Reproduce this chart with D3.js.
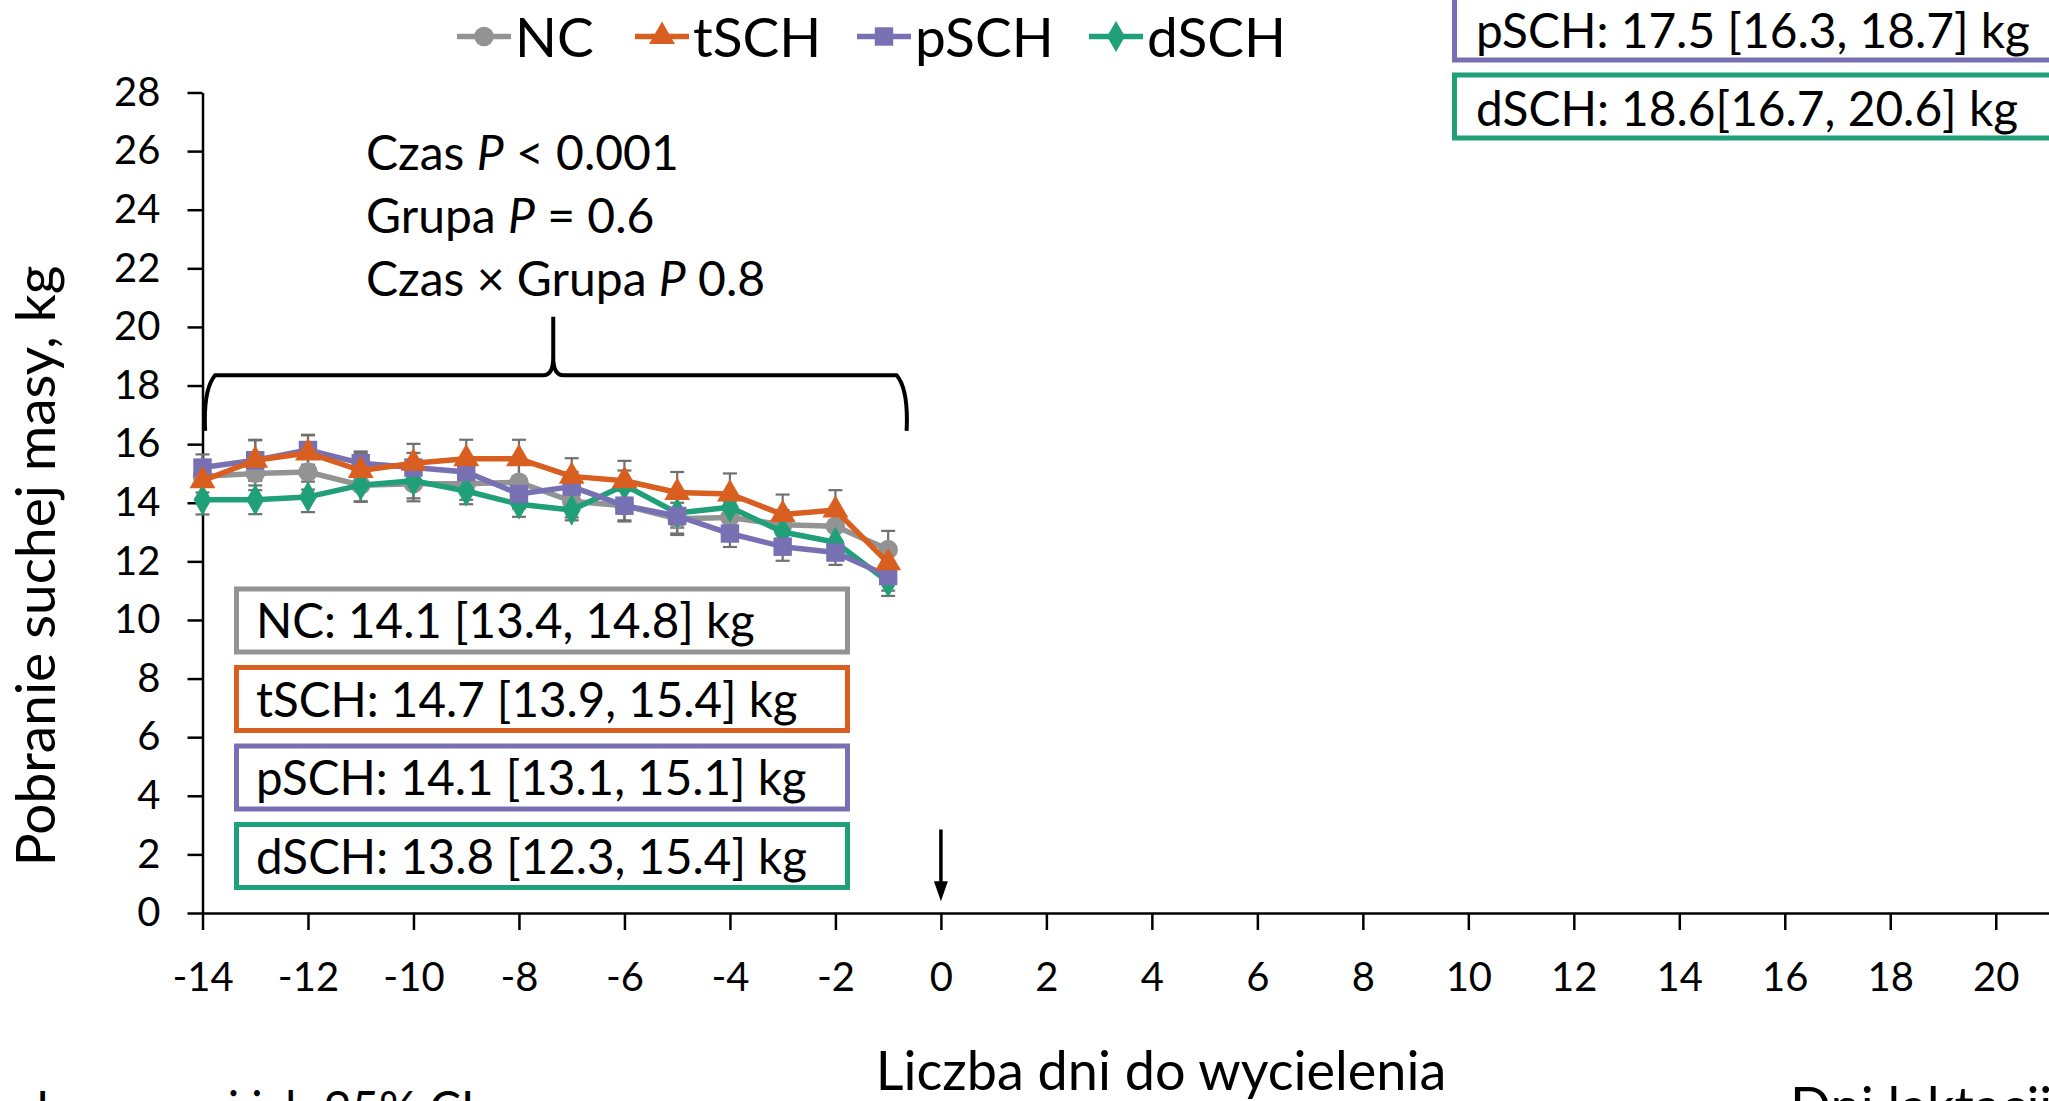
<!DOCTYPE html>
<html>

<head>
    <meta charset=utf-8 />
    <script src="https://cdn.jsdelivr.net/npm/d3@7"></script>
    <title>Pobranie suchej masy</title>
    <style>
        html,
        body {
            margin: 0;
            padding: 0;
            background: #fff;
            overflow: hidden;
        }

        svg text {
            font-family: Lato, "Open Sans", sans-serif;
            fill: #000;
        }
    </style>
</head>

<body>
    <div id="svg-canvas"></div>
    <script>
        // data (means and error bars per day before calving)
        var days = [-14, -13, -12, -11, -10, -9, -8, -7, -6, -5, -4, -3, -2, -1];
        var ncMean = [14.9, 15.0, 15.05, 14.6, 14.65, 14.65, 14.7, 14.05, 13.9, 13.45, 13.5, 13.25, 13.2, 12.4];
        var tschMean = [14.75, 15.45, 15.7, 15.1, 15.35, 15.5, 15.5, 14.9, 14.75, 14.35, 14.3, 13.6, 13.75, 11.95];
        var pschMean = [15.2, 15.45, 15.8, 15.35, 15.2, 15.05, 14.3, 14.55, 13.9, 13.55, 12.95, 12.5, 12.3, 11.5];
        var dschMean = [14.1, 14.1, 14.2, 14.6, 14.75, 14.4, 13.95, 13.75, 14.6, 13.65, 13.85, 13.0, 12.65, 11.3];
        var ncErr = [0.55, 0.57, 0.6, 0.55, 0.6, 0.55, 0.6, 0.55, 0.5, 0.55, 0.55, 0.5, 0.55, 0.64];
        var tschErr = [0.6, 0.68, 0.62, 0.6, 0.66, 0.65, 0.65, 0.62, 0.68, 0.7, 0.7, 0.68, 0.68, 0.6];
        var pschErr = [0.45, 0.7, 0.5, 0.4, 0.5, 0.5, 0.5, 0.5, 0.54, 0.6, 0.46, 0.48, 0.42, 0.5];
        var dschErr = [0.5, 0.49, 0.52, 0.57, 0.6, 0.45, 0.43, 0.35, 0.5, 0.5, 0.5, 0.5, 0.5, 0.48];

        var seriesNames = ['NC', 'tSCH', 'pSCH', 'dSCH'];
        var xTicks = [-14, -12, -10, -8, -6, -4, -2, 0, 2, 4, 6, 8, 10, 12, 14, 16, 18, 20];
        var yTicks = [0, 2, 4, 6, 8, 10, 12, 14, 16, 18, 20, 22, 24, 26, 28];

        var leftBoxLabels = ['NC: 14.1 [13.4, 14.8] kg', 'tSCH: 14.7 [13.9, 15.4] kg',
            'pSCH: 14.1 [13.1, 15.1] kg', 'dSCH: 13.8 [12.3, 15.4] kg'];
        var rightBoxNames = ['pSCH', 'dSCH'];
        var rightBoxLabels = ['pSCH: 17.5 [16.3, 18.7] kg', 'dSCH: 18.6[16.7, 20.6] kg'];
        var statLines = [['Czas ', 'P', ' < 0.001'], ['Grupa ', 'P', ' = 0.6'], ['Czas × Grupa ', 'P', ' 0.8']];
    </script>
    <script>
        var W = 2049, H = 1101;
        var colors = { NC: '#939393', tSCH: '#d95f20', pSCH: '#7771b4', dSCH: '#1fa078' };
        var shapes = { NC: d3.symbolCircle, tSCH: d3.symbolTriangle, pSCH: d3.symbolSquare, dSCH: d3.symbolDiamond };
        var sizes = { NC: 300, tSCH: 290, pSCH: 340, dSCH: 280 };

        var svg = d3.select('#svg-canvas').append('svg')
            .attr('width', W)
            .attr('height', H)

        var x = d3.scaleLinear().domain([-14, 21]).range([202.5, 2048.5]);
        var y = d3.scaleLinear().domain([0, 28]).range([913, 92.5]);

        var series = [
            { name: 'NC', mean: ncMean, err: ncErr },
            { name: 'dSCH', mean: dschMean, err: dschErr },
            { name: 'pSCH', mean: pschMean, err: pschErr },
            { name: 'tSCH', mean: tschMean, err: tschErr }
        ].map(s => ({
            name: s.name,
            points: days.map((d, i) => ({ day: d, v: s.mean[i], e: s.err[i] }))
        }));

        // axes
        var axisX = svg.append('g')
            .attr('transform', `translate(0, ${y(0)})`)
            .call(d3.axisBottom(x).tickValues(xTicks).tickSize(17).tickPadding(33).tickSizeOuter(0)
                .tickFormat(d => String(d)))
        var axisY = svg.append('g')
            .attr('transform', `translate(${x(-14)}, 0)`)
            .call(d3.axisLeft(y).tickValues(yTicks).tickSize(15).tickPadding(27).tickSizeOuter(0)
                .tickFormat(d => String(d)))

        ;[axisX, axisY].forEach(function (a) {
            a.attr('font-family', null).attr('font-size', null)
            a.selectAll('path, line').attr('stroke', '#000').attr('stroke-width', 2.5)
            a.selectAll('text').style('font-size', '40px')
        })

        // error bars
        var errG = svg.append('g')
        series.forEach(function (s) {
            var g = errG.selectAll(null).data(s.points).enter().append('g')
                .attr('stroke', '#707070').attr('stroke-width', 2.2)
            g.append('line')
                .attr('x1', d => x(d.day)).attr('x2', d => x(d.day))
                .attr('y1', d => y(d.v - d.e)).attr('y2', d => y(d.v + d.e))
            g.append('line')
                .attr('x1', d => x(d.day) - 7).attr('x2', d => x(d.day) + 7)
                .attr('y1', d => y(d.v + d.e)).attr('y2', d => y(d.v + d.e))
            g.append('line')
                .attr('x1', d => x(d.day) - 7).attr('x2', d => x(d.day) + 7)
                .attr('y1', d => y(d.v - d.e)).attr('y2', d => y(d.v - d.e))
        })

        // lines and markers
        var line = d3.line().x(d => x(d.day)).y(d => y(d.v))
        series.forEach(function (s) {
            svg.append('path')
                .datum(s.points)
                .attr('d', line)
                .attr('fill', 'none')
                .attr('stroke', colors[s.name])
                .attr('stroke-width', 5.5)
                .attr('stroke-linejoin', 'round')
            svg.selectAll(null).data(s.points).enter().append('path')
                .attr('d', d3.symbol().type(shapes[s.name]).size(sizes[s.name]))
                .attr('transform', d => `translate(${x(d.day)}, ${y(d.v)})`)
                .attr('fill', colors[s.name])
        })

        // brace over the pre-calving period
        var bx0 = x(-13.95), bx1 = x(-0.65), bxm = x(-7.35);
        var byEnd = y(16.45), byBar = y(18.35), byTip = y(20.35);
        var brace = d3.path();
        brace.moveTo(bx0, byEnd);
        brace.quadraticCurveTo(bx0 - 2, byBar + 14, bx0 + 10, byBar);
        brace.lineTo(bxm - 10, byBar);
        brace.quadraticCurveTo(bxm, byBar, bxm, byBar - 18);
        brace.lineTo(bxm, byTip);
        brace.moveTo(bxm, byBar - 18);
        brace.quadraticCurveTo(bxm, byBar, bxm + 10, byBar);
        brace.lineTo(bx1 - 10, byBar);
        brace.quadraticCurveTo(bx1 + 2, byBar + 14, bx1, byEnd);
        svg.append('path')
            .attr('d', brace.toString())
            .attr('fill', 'none')
            .attr('stroke', '#000')
            .attr('stroke-width', 4)

        // statistics
        var stat = svg.append('text')
            .attr('x', x(-10.9))
            .style('font-size', '48px')
        statLines.forEach(function (parts, i) {
            var t = stat.append('tspan').attr('x', x(-10.9)).attr('y', 170 + i * 63)
            t.append('tspan').text(parts[0])
            t.append('tspan').style('font-style', 'italic').text(parts[1])
            t.append('tspan').text(parts[2])
        })

        // calving arrow
        var ax = x(0), ay0 = y(2.85), ay1 = y(0.4);
        svg.append('line')
            .attr('x1', ax).attr('x2', ax)
            .attr('y1', ay0).attr('y2', ay1 - 16)
            .attr('stroke', '#000').attr('stroke-width', 3.5)
        svg.append('path')
            .attr('d', `M${ax - 7},${ay1 - 20}L${ax + 7},${ay1 - 20}L${ax},${ay1}Z`)
            .attr('fill', '#000')

        // summary boxes, lower left
        var boxes = svg.append('g')
        leftBoxLabels.forEach(function (label, i) {
            var top = 589 + i * 78.5;
            boxes.append('rect')
                .attr('x', 236.5).attr('y', top)
                .attr('width', 611).attr('height', 63)
                .attr('fill', '#fff')
                .attr('stroke', colors[seriesNames[i]])
                .attr('stroke-width', 5)
            boxes.append('text')
                .attr('x', 256).attr('y', top + 49)
                .style('font-size', '47.5px')
                .text(label)
        })

        // summary boxes, upper right (cut by the frame)
        rightBoxLabels.forEach(function (label, i) {
            var top = -3 + i * 78;
            boxes.append('rect')
                .attr('x', 1454.5).attr('y', top)
                .attr('width', 640).attr('height', 63)
                .attr('fill', '#fff')
                .attr('stroke', colors[rightBoxNames[i]])
                .attr('stroke-width', 5)
            boxes.append('text')
                .attr('x', 1476).attr('y', top + 51)
                .style('font-size', '47.8px')
                .text(label)
        })

        // legend
        var legendX = [484, 662, 884, 1116];
        var legendOrder = ['NC', 'tSCH', 'pSCH', 'dSCH'];
        var legend = svg.append('g')
        legendOrder.forEach(function (name, i) {
            var g = legend.append('g').attr('transform', `translate(${legendX[i]}, 36.5)`)
            g.append('line')
                .attr('x1', -27).attr('x2', 27)
                .attr('stroke', colors[name]).attr('stroke-width', 5.5)
            g.append('path')
                .attr('d', d3.symbol().type(shapes[name]).size(sizes[name]))
                .attr('fill', colors[name])
            g.append('text')
                .attr('x', 31).attr('y', 20)
                .style('font-size', '55px')
                .text(name)
        })

        // axis titles
        svg.append('text')
            .attr('transform', 'translate(55, 566) rotate(-90)')
            .attr('text-anchor', 'middle')
            .style('font-size', '55px')
            .text('Pobranie suchej masy, kg')
        svg.append('text')
            .attr('x', 1161).attr('y', 1090)
            .attr('text-anchor', 'middle')
            .style('font-size', '54px')
            .text('Liczba dni do wycielenia')

        // texts cut by the bottom edge, as in the reference
        svg.append('text')
            .attr('x', 36).attr('y', 1126)
            .style('font-size', '47.5px')
            .text('Lsmeans i ich 95% CI')
        svg.append('text')
            .attr('x', 1790).attr('y', 1126)
            .style('font-size', '54px')
            .text('Dni laktacji')
    </script>
</body>

</html>
